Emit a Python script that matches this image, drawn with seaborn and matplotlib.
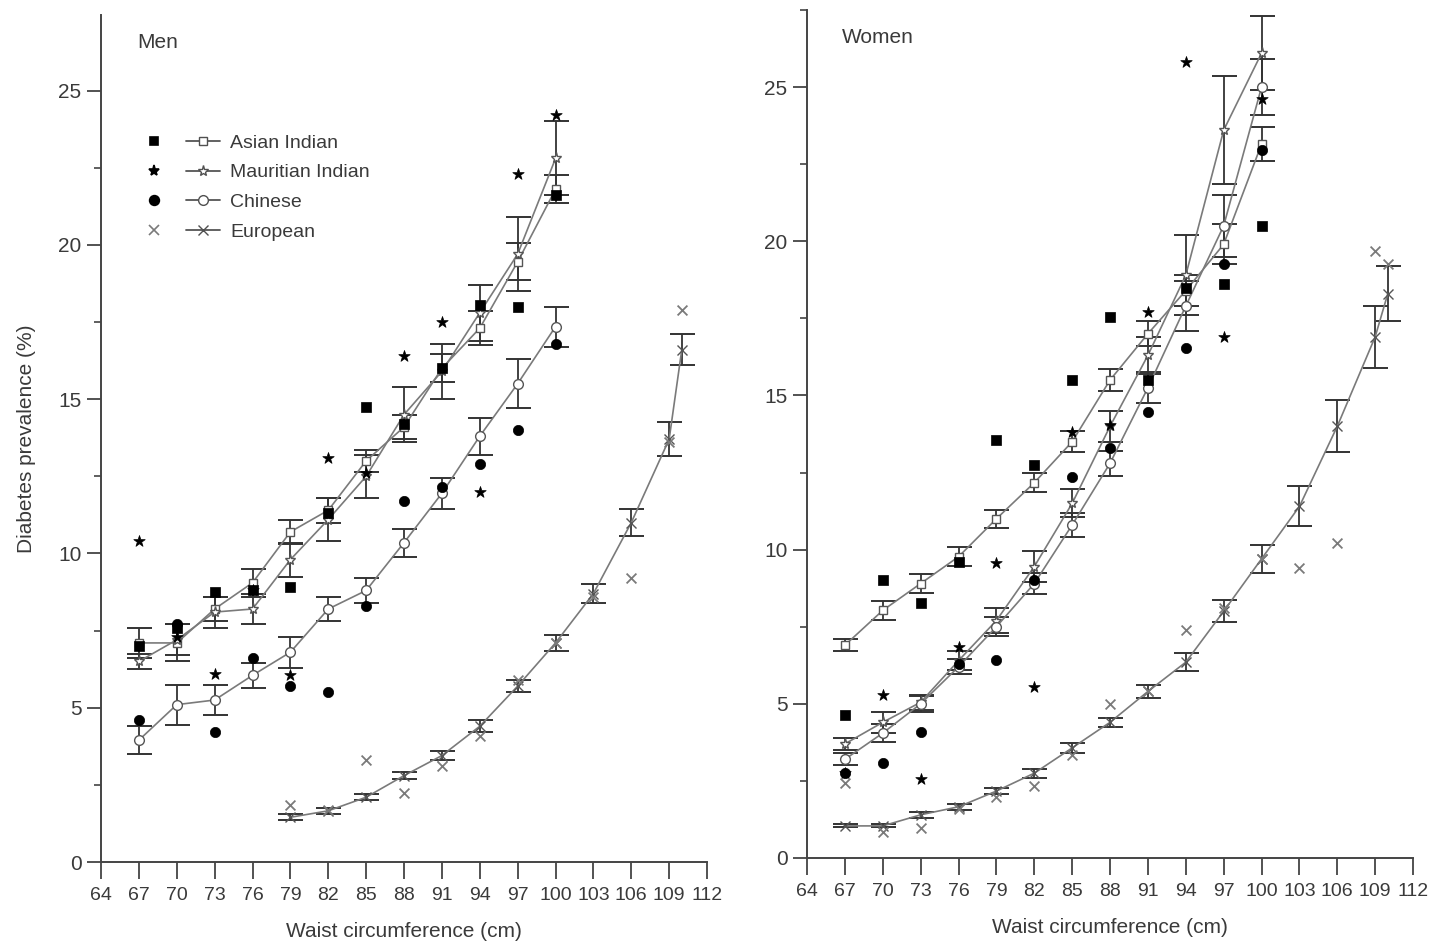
import matplotlib
matplotlib.use("Agg")
import matplotlib.pyplot as plt
import seaborn as sns
from matplotlib.lines import Line2D
from matplotlib.legend_handler import HandlerTuple
from matplotlib.ticker import MultipleLocator

# waist circumference groups (cm)
x_main = [67, 70, 73, 76, 79, 82, 85, 88, 91, 94, 97, 100]
x_eu_men = [79, 82, 85, 88, 91, 94, 97, 100, 103, 106, 109, 110]
x_eu_women = [67, 70, 73, 76, 79, 82, 85, 88, 91, 94, 97, 100, 103, 106, 109, 110]
x_ticks = [64, 67, 70, 73, 76, 79, 82, 85, 88, 91, 94, 97, 100, 103, 106, 109, 112]

# Men: fitted prevalence, half error bar, observed prevalence (%)
men_ai_fit = [7.1, 7.1, 8.2, 9.05, 10.7, 11.4, 13.0, 14.1, 16.0, 17.3, 19.45, 21.8]
men_ai_err = [0.5, 0.6, 0.4, 0.45, 0.4, 0.4, 0.35, 0.4, 0.45, 0.55, 0.6, 0.45]
men_ai_obs = [7.0, 7.6, 8.75, 8.8, 8.9, 11.3, 14.75, 14.2, 16.0, 18.05, 18.0, 21.6]

men_mi_fit = [6.5, 7.2, 8.1, 8.2, 9.8, 11.1, 12.5, 14.5, 15.9, 17.8, 19.7, 22.8]
men_mi_err = [0.25, 0.5, 0.5, 0.5, 0.55, 0.7, 0.7, 0.9, 0.9, 0.9, 1.2, 1.2]
men_mi_obs = [10.4, 7.3, 6.1, 8.8, 6.05, 13.1, 12.6, 16.4, 17.5, 12.0, 22.3, 24.2]

men_ch_fit = [3.95, 5.1, 5.25, 6.05, 6.8, 8.2, 8.8, 10.35, 11.95, 13.8, 15.5, 17.35]
men_ch_err = [0.45, 0.65, 0.5, 0.4, 0.5, 0.4, 0.4, 0.45, 0.5, 0.6, 0.8, 0.65]
men_ch_obs = [4.6, 7.7, 4.2, 6.6, 5.7, 5.5, 8.3, 11.7, 12.15, 12.9, 14.0, 16.8]

men_eu_fit = [1.45, 1.66, 2.1, 2.8, 3.45, 4.4, 5.7, 7.1, 8.7, 11.0, 13.7, 16.6]
men_eu_err = [0.1, 0.1, 0.1, 0.12, 0.15, 0.2, 0.2, 0.25, 0.3, 0.45, 0.55, 0.5]
men_eu_obs = [1.85, 1.7, 3.3, 2.25, 3.1, 4.1, 5.9, 7.1, 8.6, 9.2, 13.6, 17.9]

# Women
wom_ai_fit = [6.9, 8.03, 8.9, 9.77, 11.0, 12.17, 13.5, 15.5, 17.0, 18.4, 19.9, 23.15]
wom_ai_err = [0.2, 0.3, 0.3, 0.3, 0.3, 0.3, 0.35, 0.35, 0.4, 0.5, 0.65, 0.55]
wom_ai_obs = [4.64, 9.03, 8.27, 9.6, 13.57, 12.76, 15.5, 17.55, 15.5, 18.5, 18.6, 20.5]

wom_mi_fit = [3.7, 4.4, 5.05, 6.4, 7.7, 9.45, 11.5, 14.0, 16.3, 18.9, 23.6, 26.1]
wom_mi_err = [0.2, 0.35, 0.25, 0.3, 0.4, 0.5, 0.45, 0.5, 0.6, 1.3, 1.75, 1.2]
wom_mi_obs = [2.75, 5.3, 2.55, 6.85, 9.55, 5.55, 13.8, 14.05, 17.7, 25.8, 16.9, 24.6]

wom_ch_fit = [3.2, 4.05, 5.0, 6.2, 7.5, 8.9, 10.8, 12.8, 15.25, 17.9, 20.5, 25.0]
wom_ch_err = [0.2, 0.3, 0.25, 0.25, 0.3, 0.35, 0.4, 0.4, 0.5, 0.8, 1.0, 0.9]
wom_ch_obs = [2.75, 3.08, 4.1, 6.3, 6.43, 9.0, 12.35, 13.3, 14.45, 16.55, 19.25, 22.95]

wom_eu_fit = [1.04, 1.04, 1.4, 1.66, 2.17, 2.75, 3.57, 4.4, 5.4, 6.35, 8.0, 9.7, 11.4, 14.0, 16.9, 18.3]
wom_eu_err = [0.05, 0.05, 0.1, 0.1, 0.1, 0.15, 0.15, 0.15, 0.2, 0.3, 0.35, 0.45, 0.65, 0.85, 1.0, 0.9]
wom_eu_obs = [2.43, 0.85, 0.97, 1.6, 1.98, 2.33, 3.35, 5.0, 5.4, 7.4, 8.1, 9.7, 9.4, 10.2, 19.7, 19.25]

groups = ['Asian Indian', 'Mauritian Indian', 'Chinese', 'European']
markers = ['s', '*', 'o', 'x']
fit_ms = [6, 8, 7, 7]
obs_s = [45, 75, 55, 50]
obs_col = ['black', 'black', 'black', '#7a7a7a']

sns.set_style("ticks")
plt.rcParams['font.family'] = ['Liberation Sans', 'DejaVu Sans']
TXT = '#3a3a3a'


def draw_group(ax, xs, fit, err, obs, i):
    ax.errorbar(xs, fit, yerr=err, fmt='none', ecolor='#333333', elinewidth=1.3,
                capsize=9, capthick=1.4, zorder=2)
    sns.lineplot(x=xs, y=fit, ax=ax, color='#7a7a7a', linewidth=1.2, marker=markers[i],
                 markersize=fit_ms[i], markerfacecolor='white', markeredgecolor='#555555',
                 markeredgewidth=1.0, legend=False, zorder=3)
    if markers[i] == 'x':
        sns.scatterplot(x=xs, y=obs, ax=ax, marker='x', s=obs_s[i], color=obs_col[i],
                        linewidth=1.3, legend=False, zorder=4)
    else:
        sns.scatterplot(x=xs, y=obs, ax=ax, marker=markers[i], s=obs_s[i], color=obs_col[i],
                        edgecolor=obs_col[i], linewidth=0.5, legend=False, zorder=4)


def style_axes(ax, top):
    ax.set_xlim(64, 112)
    ax.set_ylim(0, top)
    ax.set_xticks(x_ticks)
    ax.set_xticklabels([str(t) for t in x_ticks])
    ax.yaxis.set_major_locator(MultipleLocator(5))
    ax.yaxis.set_minor_locator(MultipleLocator(2.5))
    ax.set_yticks([0, 5, 10, 15, 20, 25])
    for s in ['top', 'right']:
        ax.spines[s].set_visible(False)
    for s in ['left', 'bottom']:
        ax.spines[s].set_color('#444444')
        ax.spines[s].set_linewidth(1.4)
    ax.tick_params(axis='x', direction='out', length=12, width=1.3, labelsize=14,
                   colors='#444444', labelcolor=TXT, pad=6)
    ax.tick_params(axis='y', which='major', direction='out', length=10, width=1.3,
                   labelsize=15, colors='#444444', labelcolor=TXT, pad=4)
    ax.tick_params(axis='y', which='minor', direction='out', length=5, width=1.2,
                   colors='#444444')
    ax.set_xlabel('Waist circumference (cm)', fontsize=15, color=TXT, labelpad=13)


fig = plt.figure(figsize=(14.35, 9.42), dpi=100)
ax1 = fig.add_axes([0.0704, 0.0849, 0.4223, 0.8992])
ax2 = fig.add_axes([0.5624, 0.0892, 0.4223, 0.9002])

men = [(x_main, men_ai_fit, men_ai_err, men_ai_obs),
       (x_main, men_mi_fit, men_mi_err, men_mi_obs),
       (x_main, men_ch_fit, men_ch_err, men_ch_obs),
       (x_eu_men, men_eu_fit, men_eu_err, men_eu_obs)]
women = [(x_main, wom_ai_fit, wom_ai_err, wom_ai_obs),
         (x_main, wom_mi_fit, wom_mi_err, wom_mi_obs),
         (x_main, wom_ch_fit, wom_ch_err, wom_ch_obs),
         (x_eu_women, wom_eu_fit, wom_eu_err, wom_eu_obs)]

for i, (xs, fit, err, obs) in enumerate(men):
    draw_group(ax1, xs, fit, err, obs, i)
for i, (xs, fit, err, obs) in enumerate(women):
    draw_group(ax2, xs, fit, err, obs, i)

style_axes(ax1, 27.45)
style_axes(ax2, 27.5)
ax1.set_ylabel('Diabetes prevalence (%)', fontsize=15, color=TXT, labelpad=16)
ax2.set_ylabel('')

ax1.text(0.06, 0.968, 'Men', transform=ax1.transAxes, fontsize=15, color=TXT, va='center')
ax2.text(0.058, 0.968, 'Women', transform=ax2.transAxes, fontsize=15, color=TXT, va='center')

# legend: filled observed marker, then line with open fitted marker
handles = []
for i in range(4):
    obs_h = Line2D([], [], linestyle='none', marker=markers[i], color=obs_col[i],
                   markersize=[6, 8, 7, 7][i], markeredgewidth=1.2)
    fit_h = Line2D([], [], color='#555555', linewidth=1.3, marker=markers[i],
                   markersize=fit_ms[i], markerfacecolor='white', markeredgecolor='#505050')
    handles.append((obs_h, fit_h))
ax1.legend(handles, groups, handler_map={tuple: HandlerTuple(ndivide=None, pad=0.8)},
           loc='upper left', bbox_to_anchor=(0.03, 0.88), frameon=False, fontsize=14,
           handlelength=4.3, labelspacing=0.62, handletextpad=0.5, labelcolor=TXT)

fig.savefig('out.png', dpi=100)
